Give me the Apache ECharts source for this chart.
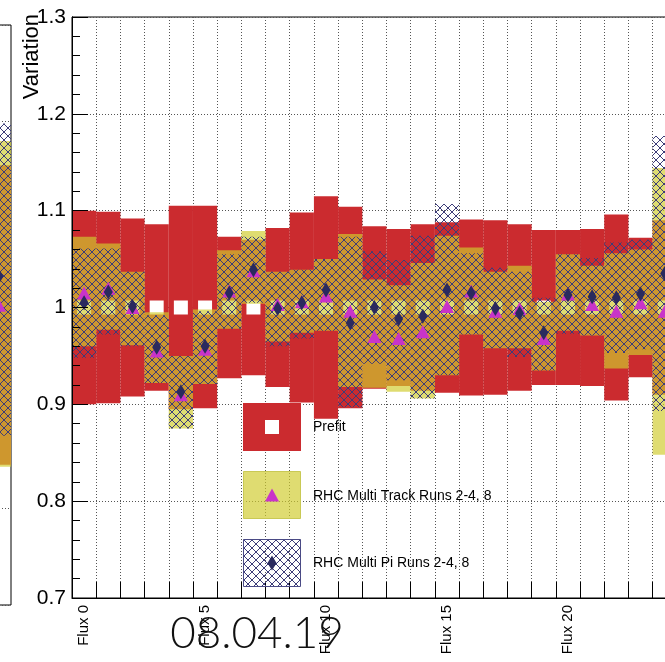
<!DOCTYPE html>
<html>
<head>
<meta charset="utf-8">
<script src="https://cdn.jsdelivr.net/npm/echarts@6/dist/echarts.min.js"></script>
<style>
html, body { margin: 0; padding: 0; background: #fff; }
#container { width: 665px; height: 662px; }
</style>
</head>
<body>
<div id="container"></div>
<script>
var dom = document.getElementById('container');
var myChart = echarts.init(dom, null, {renderer: 'canvas'});

// bins (only every 5th label is drawn)
var fluxLabels = ['Flux 0', 'Flux 1', 'Flux 2', 'Flux 3', 'Flux 4', 'Flux 5', 'Flux 6', 'Flux 7',
    'Flux 8', 'Flux 9', 'Flux 10', 'Flux 11', 'Flux 12', 'Flux 13', 'Flux 14', 'Flux 15',
    'Flux 16', 'Flux 17', 'Flux 18', 'Flux 19', 'Flux 20', 'Flux 21', 'Flux 22', 'Flux 23',
    'Flux 24', 'Flux 25'];

// Prefit: central value and band edges
var prefitVal = [1, 1, 1, 1, 1, 1, 1, 1, 1, 1, 1, 1, 1, 1, 1, 1, 1, 1, 1, 1, 1, 1, 1, 1, 1];
var prefitHigh = [1.100, 1.099, 1.092, 1.086, 1.105, 1.105, 1.073, 1.070, 1.082, 1.098, 1.115, 1.104, 1.084,
    1.081, 1.086, 1.088, 1.091, 1.090, 1.086, 1.080, 1.080, 1.081, 1.096, 1.072, 1.090];
var prefitLow = [0.900, 0.901, 0.908, 0.914, 0.895, 0.896, 0.927, 0.930, 0.918, 0.902, 0.885, 0.896, 0.916,
    0.919, 0.914, 0.912, 0.909, 0.910, 0.914, 0.920, 0.920, 0.919, 0.904, 0.928, 0.910];

// RHC Multi Track Runs 2-4, 8
var trackVal = [1.015, 1.020, 1.000, 0.955, 0.910, 0.957, 1.017, 1.038, 1.003, 1.006, 1.012, 0.996, 0.970,
    0.968, 0.975, 1.001, 1.017, 0.996, 0.999, 0.968, 1.014, 1.003, 0.996, 1.005, 0.996];
var trackHigh = [1.073, 1.066, 1.037, 0.995, 0.950, 0.998, 1.059, 1.079, 1.037, 1.039, 1.050, 1.076, 1.029,
    1.023, 1.046, 1.074, 1.062, 1.037, 1.043, 1.006, 1.055, 1.043, 1.056, 1.060, 1.144];
var trackLow = [0.960, 0.977, 0.961, 0.922, 0.875, 0.921, 0.978, 1.004, 0.965, 0.974, 0.976, 0.918, 0.917,
    0.913, 0.906, 0.930, 0.972, 0.958, 0.958, 0.935, 0.976, 0.971, 0.937, 0.951, 0.848];

// RHC Multi Pi Runs 2-4, 8
var piVal = [1.005, 1.016, 1.001, 0.959, 0.913, 0.960, 1.015, 1.039, 0.999, 1.005, 1.018, 0.984, 1.000,
    0.988, 0.991, 1.018, 1.015, 0.999, 0.994, 0.974, 1.013, 1.011, 1.010, 1.014, 1.035];
var piHigh = [1.061, 1.061, 1.037, 0.992, 0.950, 0.996, 1.055, 1.073, 1.037, 1.039, 1.050, 1.073, 1.058,
    1.049, 1.074, 1.107, 1.056, 1.041, 1.037, 1.010, 1.055, 1.051, 1.067, 1.070, 1.177];
var piLow = [0.948, 0.972, 0.960, 0.922, 0.875, 0.921, 0.978, 1.005, 0.960, 0.968, 0.976, 0.897, 0.942,
    0.925, 0.906, 0.930, 0.972, 0.958, 0.949, 0.935, 0.973, 0.971, 0.953, 0.957, 0.893];

// last bin of the neighbouring pad (cut at the left edge)
var leftPrefitHigh = [1.155];
var leftPrefitLow = [0.845];
var leftTrackVal = [1.010];
var leftTrackHigh = [1.180];
var leftTrackLow = [0.843];
var leftPiVal = [1.040];
var leftPiHigh = [1.198];
var leftPiLow = [0.875];

var RED = '#cb2b2f';
var MAGENTA = '#c934c9';
var NAVY = '#2a2a5e';
var YELLOW = 'rgba(208,204,46,0.68)';

function makePattern(size, draw) {
    var c = document.createElement('canvas');
    c.width = size;
    c.height = size;
    draw(c.getContext('2d'));
    return {image: c, repeat: 'repeat'};
}
// blue cross hatch
var hatchFill = makePattern(8, function (ctx) {
    ctx.fillStyle = '#3c3c78';
    for (var k = 0; k < 8; k++) {
        ctx.fillRect(k, k, 1, 1);
        ctx.fillRect(7 - k, k, 1, 1);
    }
});

function bandData(low, high, offset) {
    return low.map(function (v, i) { return [i + offset, v, high[i]]; });
}
function pointData(vals, offset) {
    return vals.map(function (v, i) { return [i + offset, v]; });
}
function bandItem(fill) {
    return function (params, api) {
        var top = api.coord([api.value(0), api.value(2)]);
        var bottom = api.coord([api.value(0), api.value(1)]);
        var w = api.size([1, 0])[0];
        return {
            type: 'rect',
            shape: {x: top[0] - w / 2, y: top[1], width: w, height: bottom[1] - top[1]},
            style: {fill: fill}
        };
    };
}
function band(name, fill, low, high, z, xi, yi, offset) {
    return {
        name: name, type: 'custom', xAxisIndex: xi, yAxisIndex: yi, z: z, silent: true,
        renderItem: bandItem(fill), encode: {x: 0, y: [1, 2]},
        data: bandData(low, high, offset)
    };
}
function marker(symbol, size, color, vals, z, xi, yi, offset) {
    return {
        type: 'scatter', xAxisIndex: xi, yAxisIndex: yi, z: z, silent: true,
        symbol: symbol, symbolSize: size, itemStyle: {color: color, opacity: 1},
        data: pointData(vals, offset)
    };
}

var FONT = 'Liberation Sans';
var gridDots = {show: true, lineStyle: {type: [1, 2], color: '#555', width: 1}};

option = {
    animation: false,
    backgroundColor: '#fff',
    grid: [
        {left: 72, top: 17, width: 629, height: 581, show: true, borderColor: '#000', borderWidth: 1,
            outerBoundsMode: 'none', containLabel: false},
        {left: -37, top: 25, width: 48, height: 580, show: true, borderColor: '#000', borderWidth: 1,
            outerBoundsMode: 'none', containLabel: false}
    ],
    xAxis: [{
        type: 'category', gridIndex: 0, data: fluxLabels, boundaryGap: true,
        axisLine: {lineStyle: {color: '#000', width: 1}},
        axisTick: {show: true, inside: true, length: 16, interval: 0, lineStyle: {color: '#000'}},
        axisLabel: {interval: 4, rotate: 90, fontSize: 15, fontFamily: FONT, color: '#000', margin: 7},
        splitLine: {show: true, interval: 0, lineStyle: gridDots.lineStyle}
    }, {
        type: 'category', gridIndex: 1, data: ['', ''], show: false
    }],
    yAxis: [{
        type: 'value', gridIndex: 0, min: 0.7, max: 1.3, interval: 0.1,
        axisLine: {show: true, lineStyle: {color: '#000'}},
        axisTick: {show: false},
        axisLabel: {fontSize: 21, fontFamily: FONT, color: '#000', margin: 6},
        splitLine: gridDots
    }, {
        // tick marks drawn on top of the bands
        type: 'value', gridIndex: 0, min: 0.7, max: 1.3, interval: 0.1, position: 'left', z: 10,
        axisLine: {show: true, lineStyle: {color: '#000'}},
        axisTick: {show: true, inside: true, length: 16, lineStyle: {color: '#000'}},
        minorTick: {show: true, splitNumber: 5, length: 8, lineStyle: {color: '#000'}},
        axisLabel: {show: false},
        splitLine: {show: false}
    }, {
        type: 'value', gridIndex: 1, min: 0.7, max: 1.3, interval: 0.1,
        axisLine: {show: false}, axisTick: {show: false}, axisLabel: {show: false},
        splitLine: gridDots
    }],
    series: [
        band('Prefit', RED, prefitLow, prefitHigh, 2, 0, 0, 0),
        marker('rect', [14, 14], '#fff', prefitVal, 3, 0, 0, 0),
        band('RHC Multi Track Runs 2-4, 8', YELLOW, trackLow, trackHigh, 4, 0, 0, 0),
        band('RHC Multi Pi Runs 2-4, 8', hatchFill, piLow, piHigh, 5, 0, 0, 0),
        marker('triangle', [14, 13], MAGENTA, trackVal, 6, 0, 0, 0),
        marker('diamond', [9, 15], NAVY, piVal, 7, 0, 0, 0),

        band('', RED, leftPrefitLow, leftPrefitHigh, 2, 1, 2, 1),
        band('', YELLOW, leftTrackLow, leftTrackHigh, 4, 1, 2, 1),
        band('', hatchFill, leftPiLow, leftPiHigh, 5, 1, 2, 1),
        marker('triangle', [14, 13], MAGENTA, leftTrackVal, 6, 1, 2, 1),
        marker('diamond', [9, 15], NAVY, leftPiVal, 7, 1, 2, 1)
    ],
    graphic: [
        {type: 'text', x: 32, y: 14, rotation: Math.PI / 2, z: 100,
            style: {text: 'Variation', fontSize: 22, fontFamily: FONT, fill: '#000',
                align: 'right', verticalAlign: 'middle', textAlign: 'right', textVerticalAlign: 'middle'}},
        // legend
        {type: 'rect', z: 100, shape: {x: 243, y: 403, width: 58, height: 48}, style: {fill: RED}},
        {type: 'rect', z: 101, shape: {x: 265, y: 420, width: 14, height: 14}, style: {fill: '#fff'}},
        {type: 'text', x: 313, y: 427, z: 100, style: {text: 'Prefit', fontSize: 14, fontFamily: FONT, fill: '#000',
            verticalAlign: 'middle', textVerticalAlign: 'middle'}},
        {type: 'rect', z: 100, shape: {x: 243.5, y: 471.5, width: 57, height: 47},
            style: {fill: YELLOW, stroke: '#c9c955', lineWidth: 1}},
        {type: 'polygon', z: 101, shape: {points: [[272, 488.5], [265, 501.5], [279, 501.5]]}, style: {fill: MAGENTA}},
        {type: 'text', x: 313, y: 496, z: 100, style: {text: 'RHC Multi Track Runs 2-4, 8', fontSize: 14, fontFamily: FONT,
            fill: '#000', verticalAlign: 'middle', textVerticalAlign: 'middle'}},
        {type: 'rect', z: 100, shape: {x: 243.5, y: 539.5, width: 57, height: 47},
            style: {fill: hatchFill, stroke: '#4a4a85', lineWidth: 1}},
        {type: 'polygon', z: 101, shape: {points: [[272, 555.5], [276.5, 563], [272, 570.5], [267.5, 563]]}, style: {fill: NAVY}},
        {type: 'text', x: 313, y: 563, z: 100, style: {text: 'RHC Multi Pi Runs 2-4, 8', fontSize: 14, fontFamily: FONT,
            fill: '#000', verticalAlign: 'middle', textVerticalAlign: 'middle'}},
        // date stamp
        {type: 'text', x: 257, y: 634, z: 120,
            style: {text: '08.04.19', fontSize: 44, fontFamily: 'Lato', fontWeight: 300, fill: '#111',
                align: 'center', verticalAlign: 'middle', textAlign: 'center', textVerticalAlign: 'middle'}}
    ]
};

if (option && typeof option === 'object') {
    myChart.setOption(option, true);
}
</script>
</body>
</html>
